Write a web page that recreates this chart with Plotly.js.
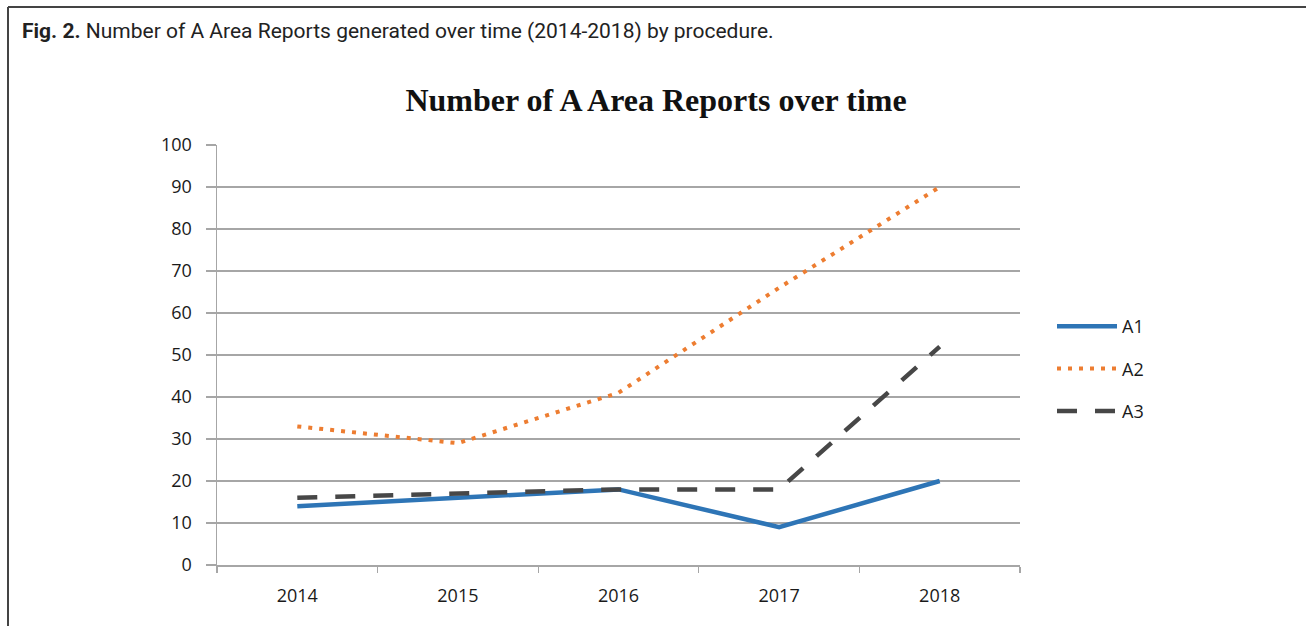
<!DOCTYPE html>
<html>
<head>
<meta charset="utf-8">
<script src="https://cdn.plot.ly/plotly-3.0.1.min.js"></script>
<style>
html,body{margin:0;padding:0;background:#fff;}
#chart{width:1306px;height:626px;}
</style>
</head>
<body>
<div id="chart"></div>
<script>
const years = ["2014", "2015", "2016", "2017", "2018"];
const seriesNames = ["A1", "A2", "A3"];
const a1 = [14, 16, 18, 9, 20];
const a2 = [33, 29, 41, 66, 90];
const a3 = [16, 17, 18, 18, 52];
const yTicks = [0, 10, 20, 30, 40, 50, 60, 70, 80, 90, 100];

const L = 217, R = 1020, T = 145, B = 565, W = 1306, H = 626;
const px = x => (x - L) / (R - L);
const py = y => (B - y) / (B - T);

const traces = [
  {x: years, y: a1, name: seriesNames[0], legendgroup: "g1", type: "scatter", mode: "lines",
   line: {color: "#2e75b6", width: 4.5}},
  {x: years, y: a2, name: seriesNames[1], legendgroup: "g2", type: "scatter", mode: "lines",
   line: {color: "#ed7d31", width: 4, dash: "4px,7px"}},
  {x: years, y: a3, name: seriesNames[2], legendgroup: "g3", type: "scatter", mode: "lines",
   line: {color: "#474747", width: 4.5, dash: "20px,18px"}}
];

const tickFont = {family: "Open Sans, Liberation Sans, sans-serif", size: 18, color: "#1a1a1a"};

const layout = {
  width: W, height: H,
  margin: {l: L, r: W - R, t: T, b: H - B, pad: 0},
  paper_bgcolor: "#fff", plot_bgcolor: "#fff",
  showlegend: true,
  title: {
    text: "Number of A Area Reports over time",
    font: {family: "Liberation Serif, Times New Roman, serif", size: 32, color: "#111", weight: "bold"},
    xref: "paper", x: px(656), xanchor: "center",
    yref: "container", y: 1 - 100 / H, yanchor: "middle"
  },
  xaxis: {
    type: "category",
    range: [-0.5, 4.5],
    showgrid: false,
    showline: true, linecolor: "#a6a6a6", linewidth: 1.5,
    ticks: "outside", ticklen: 6, tickcolor: "#a6a6a6", tickwidth: 1.2,
    tickson: "boundaries",
    tickfont: tickFont,
    ticklabelstandoff: 14,
    fixedrange: true
  },
  yaxis: {
    range: [0, 100],
    tickvals: yTicks,
    ticktext: yTicks.map(String),
    showgrid: true, gridcolor: "#a6a6a6", gridwidth: 1.5,
    zeroline: false,
    showline: true, linecolor: "#a6a6a6", linewidth: 1.5,
    ticks: "outside", ticklen: 10, tickcolor: "#a6a6a6", tickwidth: 1.5,
    tickfont: tickFont,
    ticklabelstandoff: 10,
    fixedrange: true
  },
  legend: {
    x: px(1052), xanchor: "left",
    y: py(369), yanchor: "middle",
    font: {family: "Open Sans, Liberation Sans, sans-serif", size: 18, color: "#1a1a1a"},
    tracegroupgap: 16,
    itemwidth: 60,
    bgcolor: "rgba(0,0,0,0)"
  },
  annotations: [
    {
      text: "<b>Fig. 2.</b> Number of A Area Reports generated over time (2014-2018) by procedure.",
      xref: "paper", yref: "paper",
      x: px(20), y: py(31), xanchor: "left", yanchor: "middle",
      showarrow: false,
      font: {family: "Roboto, Liberation Sans, sans-serif", size: 21, color: "#222"}
    }
  ],
  shapes: [
    {type: "line", xref: "paper", yref: "paper", x0: px(8), x1: px(1306), y0: py(7), y1: py(7),
     line: {color: "#444", width: 2}},
    {type: "line", xref: "paper", yref: "paper", x0: px(8), x1: px(8), y0: py(7), y1: py(626),
     line: {color: "#444", width: 2}}
  ]
};

Plotly.newPlot("chart", traces, layout, {displayModeBar: false, staticPlot: true});
</script>
</body>
</html>
